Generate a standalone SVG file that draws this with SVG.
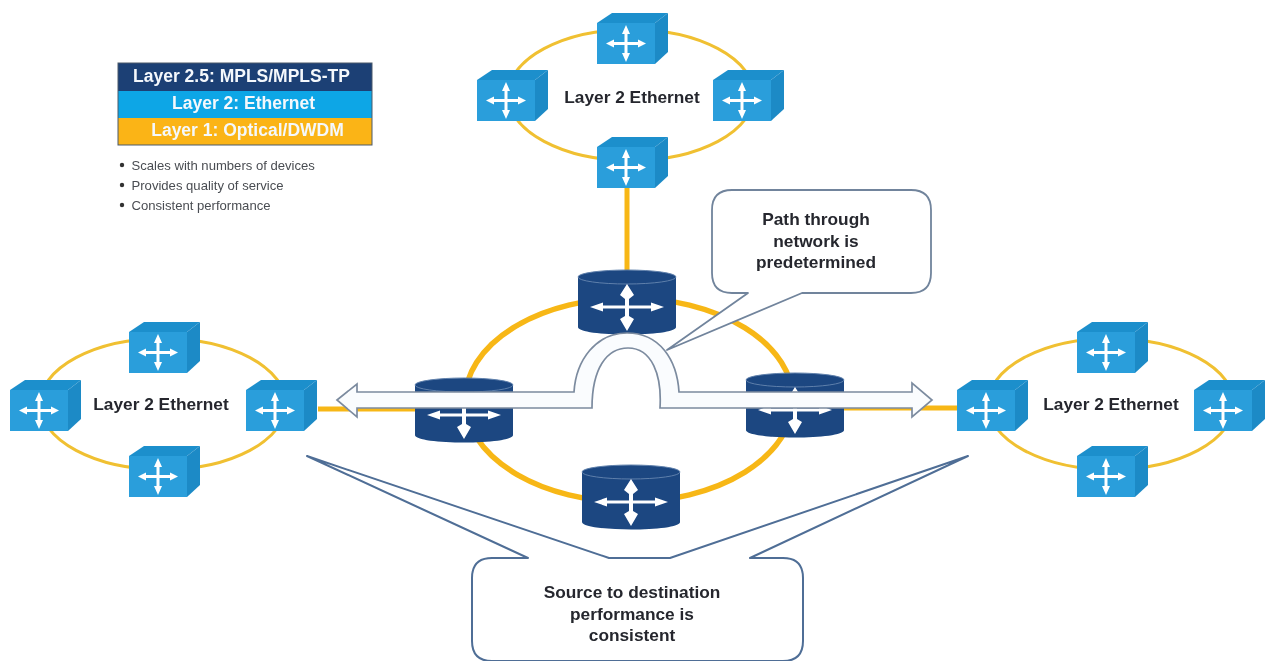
<svg xmlns="http://www.w3.org/2000/svg" width="1275" height="662" viewBox="0 0 1275 662">
<style>
text{font-family:"Liberation Sans",Arial,sans-serif}
.lbl{font-weight:bold;font-size:17.300px;fill:#25282e;text-anchor:middle}
.leg{font-weight:bold;font-size:17.500px;fill:#f4f8fc;text-anchor:middle}
.bul{font-size:13.100px;fill:#4a4d52}
.ring{fill:none;stroke:#f0c030;stroke-width:3}
.core{fill:none;stroke:#f7b718;stroke-width:5.500}
.link{fill:none;stroke:#f7b718;stroke-width:5}
.call{fill:#fff;stroke:#71849c;stroke-width:1.800;stroke-linejoin:round}
.call2{fill:#fff;stroke:#4f6e96;stroke-width:2;stroke-linejoin:round}
.pipe{fill:#fafcfe;stroke:#7c8b9f;stroke-width:1.700;stroke-linejoin:miter}
</style>
<defs>
<filter id="soft" x="0" y="0" width="100%" height="100%"><feGaussianBlur stdDeviation="0.550"/></filter>
<g id="sw">
<rect x="0" y="0" width="58" height="41" fill="#2a9edb"/>
<polygon points="0,0 15,-10 71,-10 58,0" fill="#1f8fcc"/>
<polygon points="58,0 71,-10 71,29 58,41" fill="#1e8ac6"/>
<polygon fill="#fff" points="29,2 33,11 30.500,11 30.500,19 41,19 41,16.500 49,20.500 41,24.500 41,22 30.500,22 30.500,30 33,30 29,39 25,30 27.500,30 27.500,22 17,22 17,24.500 9,20.500 17,16.500 17,19 27.500,19 27.500,11 25,11"/>
</g>
<g id="rt">
<path d="M-49,-26 V24 C-49,34 49,34 49,24 V-26 Z" fill="#1b4681"/>
<ellipse cx="0" cy="-26" rx="49" ry="7" fill="#1b4681" stroke="#5f80ab" stroke-width="1"/>
<polygon fill="#fff" points="0,-19 7,-8 2,-4 2,2.500 24,2.500 24,-0.500 37,4 24,8.500 24,5.500 2,5.500 2,13 7,16 0,28 -7,16 -2,13 -2,5.500 -24,5.500 -24,8.500 -37,4 -24,-0.500 -24,2.500 -2,2.500 -2,-4 -7,-8"/>
</g>
</defs>
<rect width="1275" height="662" fill="#fff"/>
<g filter="url(#soft)">
<g id="connectors">
<ellipse class="ring" cx="631" cy="95" rx="123" ry="65.500"/>
<ellipse class="ring" cx="163" cy="404" rx="123" ry="65.500"/>
<ellipse class="ring" cx="1111" cy="404" rx="123" ry="65.500"/>
<ellipse class="core" cx="629" cy="400" rx="164" ry="102"/>
<line class="link" x1="627" y1="187" x2="627" y2="272"/>
<line class="link" x1="318" y1="409" x2="416" y2="409"/>
<line class="link" x1="842" y1="408" x2="958" y2="408"/>
</g>
<g id="sw-top-n"><use href="#sw" x="597" y="23"/></g>
<g id="sw-top-w"><use href="#sw" x="477" y="80"/></g>
<g id="sw-top-e"><use href="#sw" x="713" y="80"/></g>
<g id="sw-top-s"><use href="#sw" x="597" y="147"/></g>
<g id="sw-left-n"><use href="#sw" x="129" y="332"/></g>
<g id="sw-left-w"><use href="#sw" x="10" y="390"/></g>
<g id="sw-left-e"><use href="#sw" x="246" y="390"/></g>
<g id="sw-left-s"><use href="#sw" x="129" y="456"/></g>
<g id="sw-right-n"><use href="#sw" x="1077" y="332"/></g>
<g id="sw-right-w"><use href="#sw" x="957" y="390"/></g>
<g id="sw-right-e"><use href="#sw" x="1194" y="390"/></g>
<g id="sw-right-s"><use href="#sw" x="1077" y="456"/></g>
<g id="rt-n"><use href="#rt" x="627" y="303"/></g>
<g id="rt-w"><use href="#rt" x="464" y="411"/></g>
<g id="rt-e"><use href="#rt" x="795" y="406"/></g>
<g id="rt-s"><use href="#rt" x="631" y="498"/></g>
<g id="label-top"><text class="lbl" x="632" y="103">Layer 2 Ethernet</text></g>
<g id="label-left"><text class="lbl" x="161" y="410">Layer 2 Ethernet</text></g>
<g id="label-right"><text class="lbl" x="1111" y="410">Layer 2 Ethernet</text></g>
<g id="path-arrow">
<path class="pipe" d="M337,400 L357,384 V392 H574 C576,360 596,333 627,333 C660,333 677,360 679,392 H912 V383 L932,400 L912,417 V408 H660 C662,375 652,348 628,348 C607,348 592,368 592,408 H357 V417 Z"/>
</g>
<g id="callout-path">
<path class="call" d="M732,190 H911 Q931,190 931,210 V273 Q931,293 911,293 H802 L667,350 L748,293 H732 Q712,293 712,273 V210 Q712,190 732,190 Z"/>
<text class="lbl" x="816" y="225">Path through</text>
<text class="lbl" x="816" y="247">network is</text>
<text class="lbl" x="816" y="268">predetermined</text>
</g>
<g id="callout-perf">
<path class="call2" d="M492,558 H528 L307,456 L609,558 H670 L968,456 L750,558 H783 Q803,558 803,578 V641 Q803,661 783,661 H492 Q472,661 472,641 V578 Q472,558 492,558 Z"/>
<text class="lbl" x="632" y="598">Source to destination</text>
<text class="lbl" x="632" y="620">performance is</text>
<text class="lbl" x="632" y="641">consistent</text>
</g>
<g id="legend">
<rect x="118" y="63" width="254" height="28" fill="#1c3f75"/>
<rect x="118" y="91" width="254" height="27" fill="#0ea6e6"/>
<rect x="118" y="118" width="254" height="27" fill="#fbb414"/>
<rect x="118" y="63" width="254" height="82" fill="none" stroke="#4a5a6a" stroke-width="1"/>
<text class="leg" x="241.500" y="82">Layer 2.5: MPLS/MPLS-TP</text>
<text class="leg" x="243.500" y="109">Layer 2: Ethernet</text>
<text class="leg" x="247.500" y="136">Layer 1: Optical/DWDM</text>
</g>
<g id="bullets">
<circle cx="122" cy="165" r="2.200" fill="#333"/>
<circle cx="122" cy="185" r="2.200" fill="#333"/>
<circle cx="122" cy="205" r="2.200" fill="#333"/>
<text class="bul" x="131.500" y="170">Scales with numbers of devices</text>
<text class="bul" x="131.500" y="190">Provides quality of service</text>
<text class="bul" x="131.500" y="210">Consistent performance</text>
</g>
</g>
</svg>
